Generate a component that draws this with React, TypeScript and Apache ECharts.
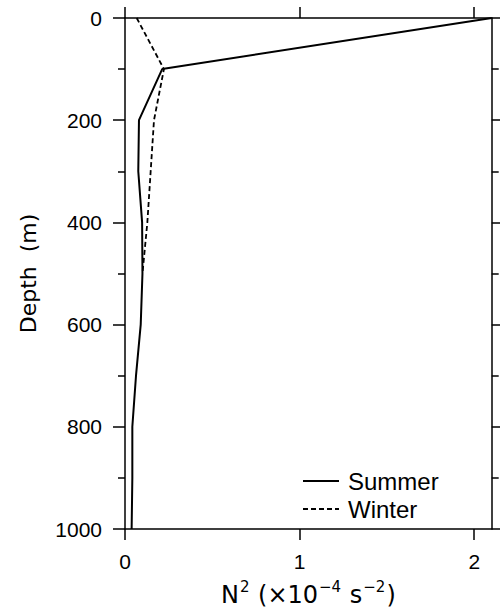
import React, { useEffect, useRef } from "react";
import * as echarts from "echarts";

const depths = [0, 100, 200, 300, 400, 500, 600, 700, 800, 900, 1000];
const summerN2 = [2.1, 0.213, 0.08, 0.076, 0.098, 0.1, 0.09, 0.063, 0.042, 0.042, 0.038];
const winterDepths = [0, 100, 200, 300, 400, 500];
const winterN2 = [0.067, 0.223, 0.166, 0.147, 0.128, 0.1];
const xTicks = [0, 1, 2];
const seriesNames = ["Summer", "Winter"];

const tickFont = "'Liberation Sans', Arial, sans-serif";
const titleFont = "'DejaVu Sans', sans-serif";

export default function App() {
  const ref = useRef<HTMLDivElement>(null);
  useEffect(() => {
    if (!ref.current) return;
    const chart = echarts.init(ref.current, undefined, { renderer: "svg" });
    const axisLine = { show: true, onZero: false, lineStyle: { color: "#000", width: 1.5 } };
    const tickStyle = { color: "#000", width: 1.5 };
    const summerData = depths.map((d, i) => [summerN2[i], d]);
    const winterData = winterDepths.map((d, i) => [winterN2[i], d]);
    chart.setOption({
      animation: false,
      backgroundColor: "#fff",
      grid: { left: 125, right: 8.3, top: 18, bottom: 79, containLabel: false },
      legend: {
        orient: "vertical",
        left: 297,
        top: 464,
        itemWidth: 36,
        itemHeight: 14,
        itemGap: 4,
        data: seriesNames,
        itemStyle: { opacity: 0, borderWidth: 0 },
        textStyle: { fontFamily: tickFont, fontSize: 24, color: "#000", padding: [0, 0, 0, 4] },
      },
      xAxis: [
        {
          type: "value",
          position: "bottom",
          min: 0,
          max: 2.1,
          interval: 1,
          axisLine,
          splitLine: { show: false },
          axisTick: { show: true, inside: false, length: 11, lineStyle: tickStyle, customValues: xTicks },
          axisLabel: { fontFamily: tickFont, fontSize: 21, color: "#000", margin: 22, customValues: xTicks },
          name: "N{sup|2} (×10{sup|−4} s{sup|−2})",
          nameLocation: "middle",
          nameGap: 50,
          nameTextStyle: {
            fontFamily: titleFont,
            fontSize: 24,
            color: "#000",
            rich: {
              sup: { fontFamily: titleFont, fontSize: 15, color: "#000", padding: [0, 1, 17, 1] },
            },
          },
        },
        {
          type: "value",
          position: "top",
          min: 0,
          max: 2.1,
          interval: 1,
          axisLine,
          splitLine: { show: false },
          axisTick: { show: true, inside: false, length: 11, lineStyle: tickStyle, customValues: xTicks },
          axisLabel: { show: false },
        },
      ],
      yAxis: [
        {
          type: "value",
          position: "left",
          inverse: true,
          min: 0,
          max: 1000,
          interval: 200,
          axisLine,
          splitLine: { show: false },
          axisTick: { show: true, inside: false, length: 12, lineStyle: tickStyle },
          minorTick: { show: true, splitNumber: 2, length: 7, lineStyle: tickStyle },
          minorSplitLine: { show: false },
          axisLabel: {
            fontFamily: tickFont,
            fontSize: 21,
            color: "#000",
            margin: 23,
            formatter: (v: number) => String(v),
          },
          name: "Depth  (m)",
          nameLocation: "middle",
          nameGap: 86,
          nameTextStyle: { fontFamily: titleFont, fontSize: 22, color: "#000" },
        },
        {
          type: "value",
          position: "right",
          inverse: true,
          min: 0,
          max: 1000,
          interval: 200,
          axisLine,
          splitLine: { show: false },
          axisTick: { show: true, inside: false, length: 12, lineStyle: tickStyle },
          minorTick: { show: true, splitNumber: 2, length: 7, lineStyle: tickStyle },
          minorSplitLine: { show: false },
          axisLabel: { show: false },
        },
      ],
      series: [
        {
          name: seriesNames[1],
          type: "line",
          data: winterData,
          symbol: "none",
          z: 2,
          itemStyle: { color: "#000" },
          lineStyle: { color: "#000", width: 1.8, type: [5, 3] },
        },
        {
          name: seriesNames[0],
          type: "line",
          data: summerData,
          symbol: "none",
          z: 3,
          itemStyle: { color: "#000" },
          lineStyle: { color: "#000", width: 2, type: "solid" },
        },
      ],
    });
    return () => chart.dispose();
  }, []);
  return (
    <div
      ref={ref}
      style={{ position: "fixed", left: 0, top: 0, width: 500, height: 612, background: "#fff" }}
    />
  );
}
